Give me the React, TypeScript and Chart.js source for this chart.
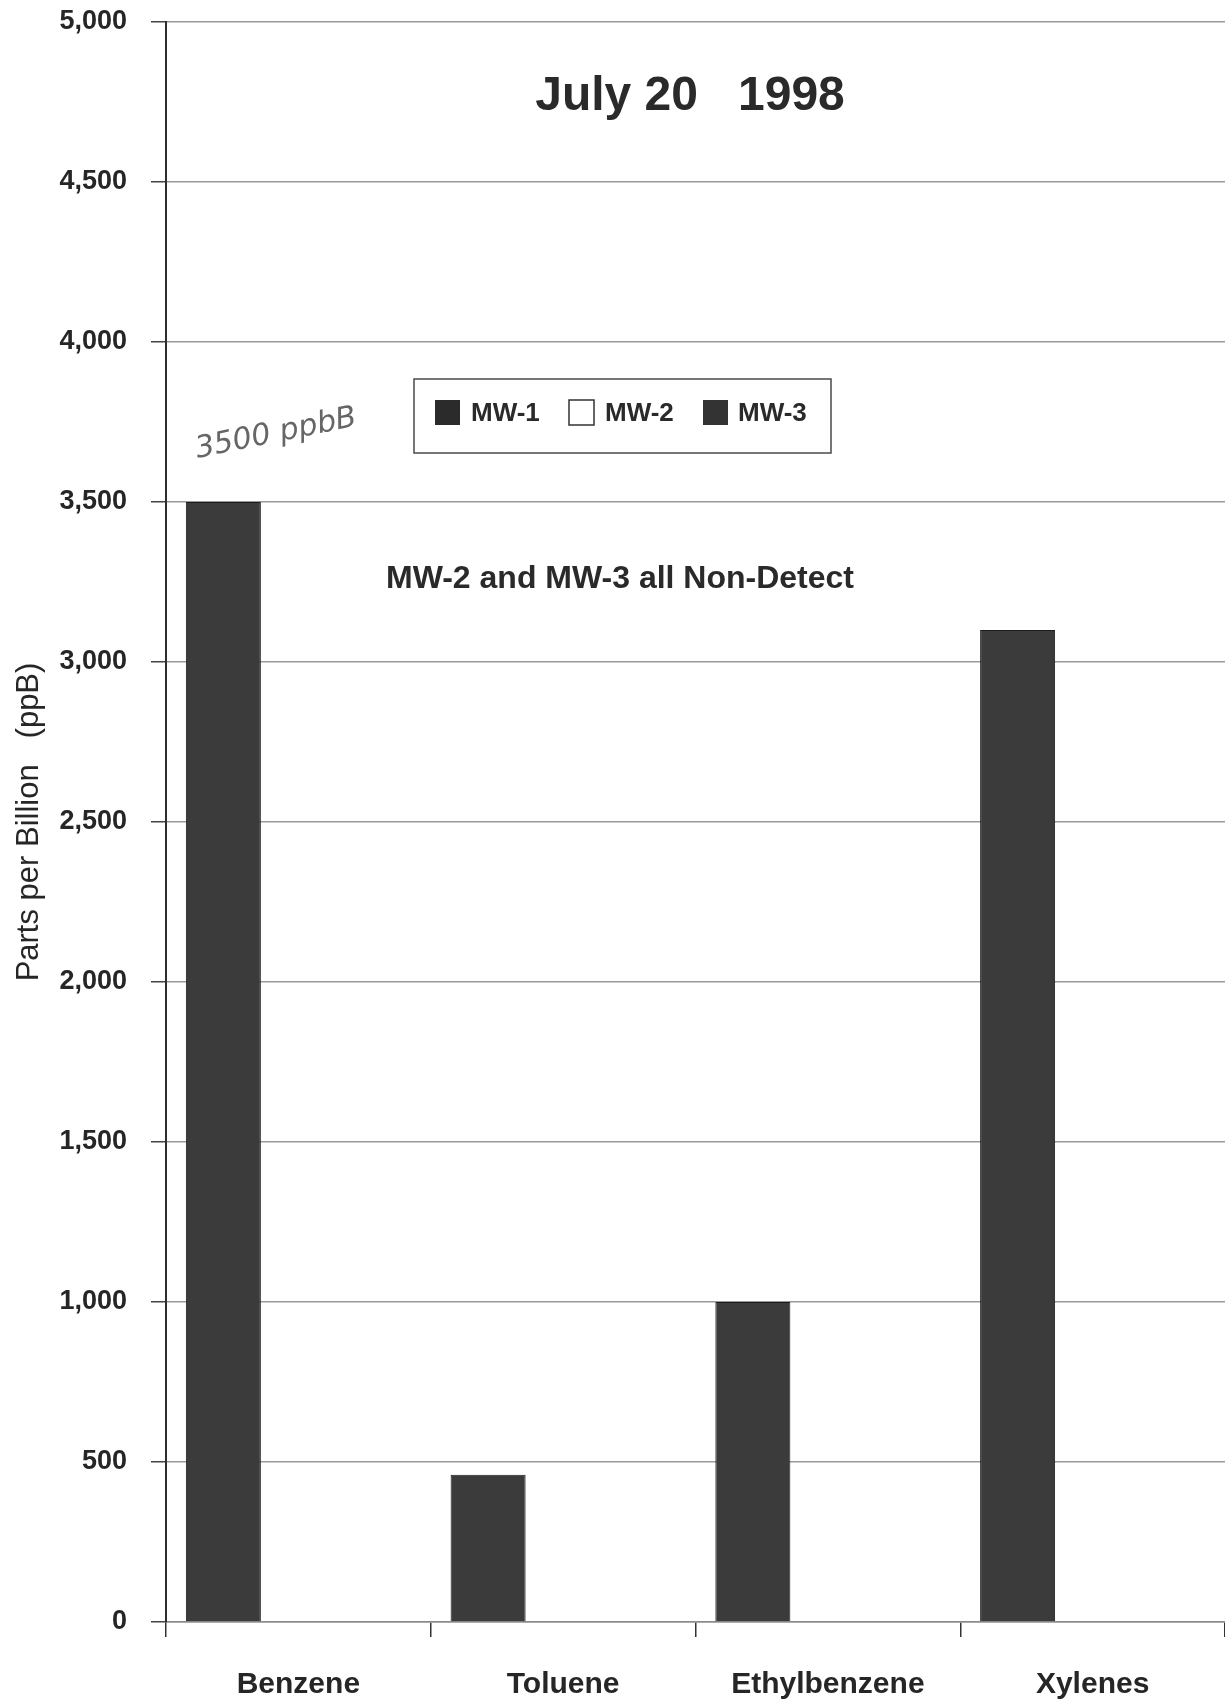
import React, { useEffect, useRef } from "react";
import { Chart, registerables } from "chart.js";

Chart.register(...registerables);

const categories = ["Benzene", "Toluene", "Ethylbenzene", "Xylenes"];
const seriesNames = ["MW-1", "MW-2", "MW-3"];
const mw1Values = [3500, 460, 1000, 3100];
const mw2Values = [0, 0, 0, 0];
const mw3Values = [0, 0, 0, 0];
const yMin = 0;
const yMax = 5000;
const yStep = 500;
const chartTitle = "July 20   1998";
const noteText = "MW-2 and MW-3 all Non-Detect";
const handNote = "3500 ppbB";
const yAxisTitle = "Parts per Billion   (ppB)";

const FONT = '"Liberation Sans", Arial, sans-serif';

const overlayPlugin = {
  id: "overlay",
  afterDraw(chart: any) {
    const ctx = chart.ctx;
    ctx.save();
    // Title
    ctx.fillStyle = "#2a2a2a";
    ctx.textAlign = "center";
    ctx.textBaseline = "middle";
    ctx.font = `bold 48px ${FONT}`;
    ctx.fillText(chartTitle, 690, 97);

    // Note
    ctx.font = `bold 32px ${FONT}`;
    ctx.fillText(noteText, 620, 579);

    // Legend box
    ctx.fillStyle = "#ffffff";
    ctx.fillRect(414, 379, 417, 74);
    ctx.strokeStyle = "#4a4a4a";
    ctx.lineWidth = 1.5;
    ctx.strokeRect(414, 379, 417, 74);
    const swX = [435, 569, 703];
    const txX = [471, 605, 738];
    const swFill = ["#2b2b2b", "#ffffff", "#333333"];
    ctx.font = `bold 26px ${FONT}`;
    ctx.textAlign = "left";
    chart.data.datasets.forEach((ds: any, i: number) => {
      ctx.fillStyle = swFill[i];
      ctx.fillRect(swX[i], 400, 25, 25);
      if (i === 1) {
        ctx.strokeStyle = "#333";
        ctx.lineWidth = 1.5;
        ctx.strokeRect(swX[i], 400, 25, 25);
      }
      ctx.fillStyle = "#2a2a2a";
      ctx.fillText(ds.label, txX[i], 414);
    });

    // Handwritten annotation
    ctx.translate(276, 434);
    ctx.rotate(-0.2);
    ctx.fillStyle = "#666666";
    ctx.textAlign = "center";
    ctx.font = `italic 30px "DejaVu Sans", sans-serif`;
    ctx.fillText(handNote, 0, 0);
    ctx.restore();
  },
};

const bgPlugin = {
  id: "bg",
  beforeDraw(chart: any) {
    const ctx = chart.ctx;
    ctx.save();
    ctx.fillStyle = "#ffffff";
    ctx.fillRect(0, 0, chart.width, chart.height);
    ctx.restore();
  },
};

export default function App() {
  const canvasRef = useRef<HTMLCanvasElement | null>(null);

  useEffect(() => {
    document.body.style.margin = "0";
    const canvas = canvasRef.current;
    if (!canvas) return;
    const chart = new Chart(canvas, {
      type: "bar",
      data: {
        labels: categories,
        datasets: [
          {
            label: seriesNames[0],
            data: mw1Values,
            backgroundColor: "#3b3b3b",
            borderColor: "#1c1c1c",
            borderWidth: 1,
          },
          {
            label: seriesNames[1],
            data: mw2Values,
            backgroundColor: "#ffffff",
            borderColor: "#333333",
            borderWidth: 0,
          },
          {
            label: seriesNames[2],
            data: mw3Values,
            backgroundColor: "#333333",
            borderColor: "#1c1c1c",
            borderWidth: 0,
          },
        ],
      },
      options: {
        animation: false,
        responsive: true,
        maintainAspectRatio: false,
        layout: { padding: { top: 22, left: 0, right: 0, bottom: 0 } },
        datasets: {
          bar: { categoryPercentage: 0.85, barPercentage: 1.0 },
        },
        plugins: {
          legend: { display: false },
          title: { display: false },
          tooltip: { enabled: false },
        },
        scales: {
          x: {
            grid: {
              offset: true,
              drawOnChartArea: false,
              drawTicks: true,
              tickLength: 15,
              color: "#333333",
              lineWidth: 1.5,
            },
            border: { display: true, color: "#8a8a8a", width: 1.5 },
            ticks: {
              color: "#262626",
              font: { family: FONT, size: 30, weight: "bold" },
              padding: 30,
              maxRotation: 0,
            },
            afterFit: (s: any) => {
              s.height = 81;
              s.paddingLeft = 0;
              s.paddingRight = 0;
            },
          },
          y: {
            min: yMin,
            max: yMax,
            ticks: {
              stepSize: yStep,
              color: "#262626",
              font: { family: FONT, size: 27, weight: "bold" },
              padding: 24,
              callback: (v: any) => Number(v).toLocaleString("en-US"),
            },
            grid: {
              color: "#9a9a9a",
              lineWidth: 1.5,
              drawTicks: true,
              tickLength: 15,
              tickColor: "#444444",
            },
            border: { display: true, color: "#2e2e2e", width: 2 },
            title: {
              display: true,
              text: yAxisTitle,
              color: "#262626",
              font: { family: FONT, size: 31, weight: "normal" },
              padding: { top: 11, bottom: 0 },
            },
            afterFit: (s: any) => {
              s.width = 166;
              s.paddingTop = 0;
              s.paddingBottom = 0;
            },
          },
        },
      },
      plugins: [bgPlugin, overlayPlugin],
    });
    return () => {
      chart.destroy();
    };
  }, []);

  return (
    <div style={{ width: "1225px", height: "1703px", position: "relative", background: "#fff" }}>
      <canvas ref={canvasRef} />
    </div>
  );
}
